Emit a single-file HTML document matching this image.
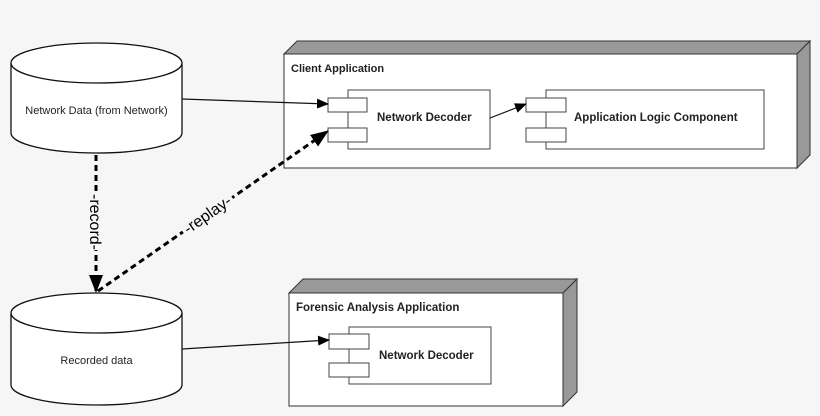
<!DOCTYPE html>
<html><head><meta charset="utf-8"><style>
html,body{margin:0;padding:0;background:#f6f6f6;}
svg{display:block;font-family:"Liberation Sans",Arial,sans-serif;}
</style></head><body>
<svg width="820" height="416" viewBox="0 0 820 416" xmlns="http://www.w3.org/2000/svg">
<defs>
<marker id="ah" markerWidth="12" markerHeight="10" refX="11" refY="5" orient="auto" markerUnits="userSpaceOnUse">
<path d="M0,0 L12,5 L0,10 Z" fill="#000"/></marker>
<marker id="ahb" markerWidth="18" markerHeight="14" refX="17" refY="7" orient="auto" markerUnits="userSpaceOnUse">
<path d="M0,0 L18,7 L0,14 Z" fill="#000"/></marker>
</defs>
<rect width="820" height="416" fill="#f6f6f6"/>
<polygon points="284,54 297,41 810,41 797,54" fill="#999" stroke="#333" stroke-width="1"/>
<polygon points="797,54 810,41 810,155 797,168" fill="#999" stroke="#333" stroke-width="1"/>
<rect x="284" y="54" width="513" height="114" fill="#fff" stroke="#333" stroke-width="1"/>
<text x="291" y="72" font-size="11" font-weight="bold" fill="#222">Client Application</text>
<rect x="348" y="90" width="142" height="59" fill="#fff" stroke="#444"/>
<rect x="328" y="98" width="39" height="14" fill="#fff" stroke="#444"/>
<rect x="328" y="128" width="39" height="14" fill="#fff" stroke="#444"/>
<text x="377" y="121" font-size="11.5" font-weight="bold" fill="#222">Network Decoder</text>
<rect x="546" y="90" width="218" height="59" fill="#fff" stroke="#444"/>
<rect x="526" y="98" width="40" height="14" fill="#fff" stroke="#444"/>
<rect x="526" y="128" width="40" height="14" fill="#fff" stroke="#444"/>
<text x="574" y="121" font-size="11.5" font-weight="bold" fill="#222">Application Logic Component</text>
<polygon points="289,293 303,279 577,279 563,293" fill="#999" stroke="#333"/>
<polygon points="563,293 577,279 577,392 563,406" fill="#999" stroke="#333"/>
<rect x="289" y="293" width="274" height="113" fill="#fff" stroke="#333"/>
<text x="296" y="311" font-size="11.5" font-weight="bold" fill="#222">Forensic Analysis Application</text>
<rect x="349" y="327" width="142" height="57" fill="#fff" stroke="#444"/>
<rect x="329" y="334" width="40" height="15" fill="#fff" stroke="#444"/>
<rect x="329" y="363" width="40" height="14" fill="#fff" stroke="#444"/>
<text x="379" y="359" font-size="11.5" font-weight="bold" fill="#222">Network Decoder</text>
<path d="M11,63 L11,133 A85.5,20 0 0 0 182,133 L182,63" fill="#fff" stroke="#111" stroke-width="1.3"/>
<ellipse cx="96.5" cy="63" rx="85.5" ry="20" fill="#fff" stroke="#111" stroke-width="1.3"/>
<text x="96.5" y="114" font-size="11" text-anchor="middle" fill="#222">Network Data (from Network)</text>
<path d="M11,313 L11,385 A85.5,20 0 0 0 182,385 L182,313" fill="#fff" stroke="#111" stroke-width="1.3"/>
<ellipse cx="96.5" cy="313" rx="85.5" ry="20" fill="#fff" stroke="#111" stroke-width="1.3"/>
<text x="96.5" y="364" font-size="11" text-anchor="middle" fill="#222">Recorded data</text>
<line x1="182" y1="99" x2="328" y2="104" stroke="#111" stroke-width="1.2" marker-end="url(#ah)"/>
<line x1="490" y1="118" x2="526" y2="104" stroke="#111" stroke-width="1.2" marker-end="url(#ah)"/>
<line x1="182" y1="349" x2="329" y2="340" stroke="#111" stroke-width="1.2" marker-end="url(#ah)"/>
<line x1="96" y1="155" x2="96" y2="292" stroke="#000" stroke-width="3" stroke-dasharray="6,4" marker-end="url(#ahb)"/>
<line x1="98" y1="291" x2="328" y2="131" stroke="#000" stroke-width="3" stroke-dasharray="6,4" marker-end="url(#ahb)"/>
<g transform="translate(96,222) rotate(90)"><rect x="-28" y="-9" width="56" height="18" fill="#f6f6f6"/><text x="0" y="6" font-size="16" text-anchor="middle" fill="#000">-record-</text></g>
<g transform="translate(207,214) rotate(-35)"><rect x="-30" y="-9" width="60" height="18" fill="#f6f6f6"/><text x="0" y="6" font-size="16" text-anchor="middle" fill="#000">-replay-</text></g>
</svg>
</body></html>
